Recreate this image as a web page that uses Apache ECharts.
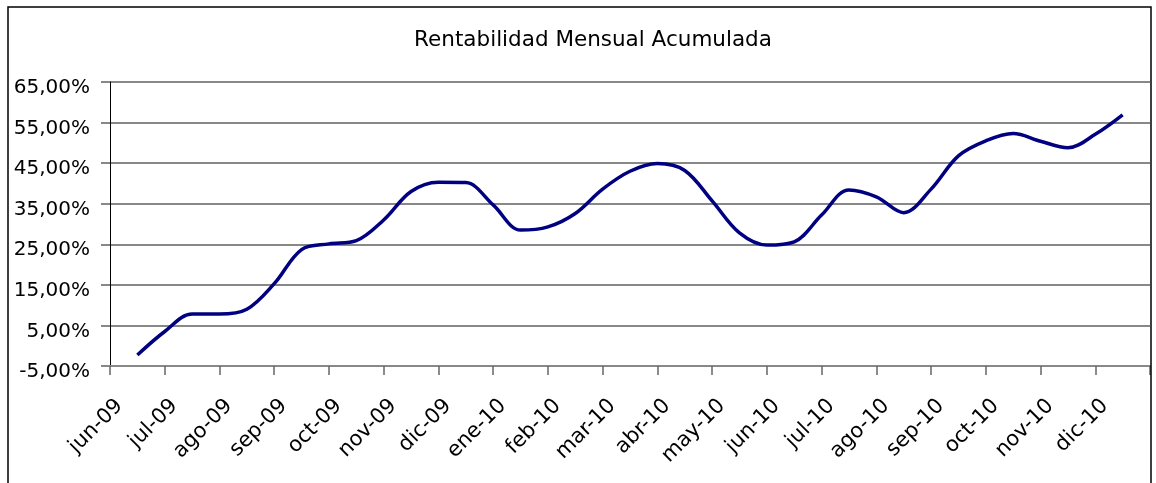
<!DOCTYPE html>
<html>
<head>
<meta charset="utf-8">
<script src="https://cdn.jsdelivr.net/npm/echarts@6/dist/echarts.min.js"></script>
<style>html,body{margin:0;padding:0;background:#fff}#c{width:1156px;height:483px}</style>
</head>
<body>
<div id="c"></div>
<script>
var months = ['jun-09','jul-09','ago-09','sep-09','oct-09','nov-09','dic-09','ene-10','feb-10','mar-10','abr-10','may-10','jun-10','jul-10','ago-10','sep-10','oct-10','nov-10','dic-10'];
// position of each point, in months from the centre of jun-09
var monthPos = [0,0.5,1,1.5,2,2.5,3,3.5,4,4.5,5,5.5,6,6.5,7,7.5,8,8.5,9,9.5,10,10.5,11,11.5,12,12.5,13,13.5,14,14.5,15,15.5,16,16.5,17,17.5,18];
var values = [-2.3,3.5,7.8,7.8,9.0,15.3,23.7,25.1,25.9,31.0,38.0,40.3,40.2,34.7,28.5,29.3,32.6,38.6,43.0,44.9,43.2,35.7,27.8,24.8,25.6,32.2,38.4,36.7,32.8,38.6,46.8,50.5,52.3,50.4,48.8,52.1,56.9];
var yTickLabels = ['-5,00%','5,00%','15,00%','25,00%','35,00%','45,00%','55,00%','65,00%'];

var pts = monthPos.map(function(p,i){ return [p, values[i]]; });
var FONT = 'DejaVu Sans';
var chart = echarts.init(document.getElementById('c'), null, {renderer:'canvas'});
chart.setOption({
  animation:false,
  backgroundColor:'#fff',
  title:{text:'Rentabilidad Mensual Acumulada', left:588, textAlign:'center', top:24,
    textStyle:{fontFamily:FONT, fontSize:21.5, fontWeight:'normal', color:'#000'}},
  grid:{left:110, right:6, top:82, bottom:117, containLabel:false},
  xAxis:[{
    type:'category', data:months, boundaryGap:true,
    axisLine:{show:true, onZero:false, lineStyle:{color:'#888', width:2}},
    axisTick:{show:true, length:9, lineStyle:{color:'#666', width:1.5}},
    axisLabel:{rotate:45, margin:19, padding:[0,25,0,0], interval:0, fontFamily:FONT, fontSize:21, color:'#000'},
    splitLine:{show:false}
  },{
    type:'value', min:-0.5, max:18.5, show:false
  }],
  yAxis:{
    type:'value', min:-5, max:65, interval:10,
    axisLine:{show:true, onZero:false, lineStyle:{color:'#000', width:1}},
    axisTick:{show:true, length:9, lineStyle:{color:'#888', width:2}},
    axisLabel:{margin:20, fontFamily:FONT, fontSize:20, color:'#000', verticalAlign:'top', lineHeight:12,
      formatter:function(v){ var i = Math.round((v+5)/10); return yTickLabels[i]; }},
    splitLine:{show:true, lineStyle:{color:'#888', width:2}}
  },
  graphic:[{type:'rect', shape:{x:8, y:7, width:1143, height:500}, style:{fill:'none', stroke:'#000', lineWidth:1.5}, z:100}],
  series:[{
    type:'line', xAxisIndex:1, data:pts, smooth:0.35, showSymbol:false,
    lineStyle:{color:'#000080', width:3.5}, z:10
  }]
});
</script>
</body>
</html>
